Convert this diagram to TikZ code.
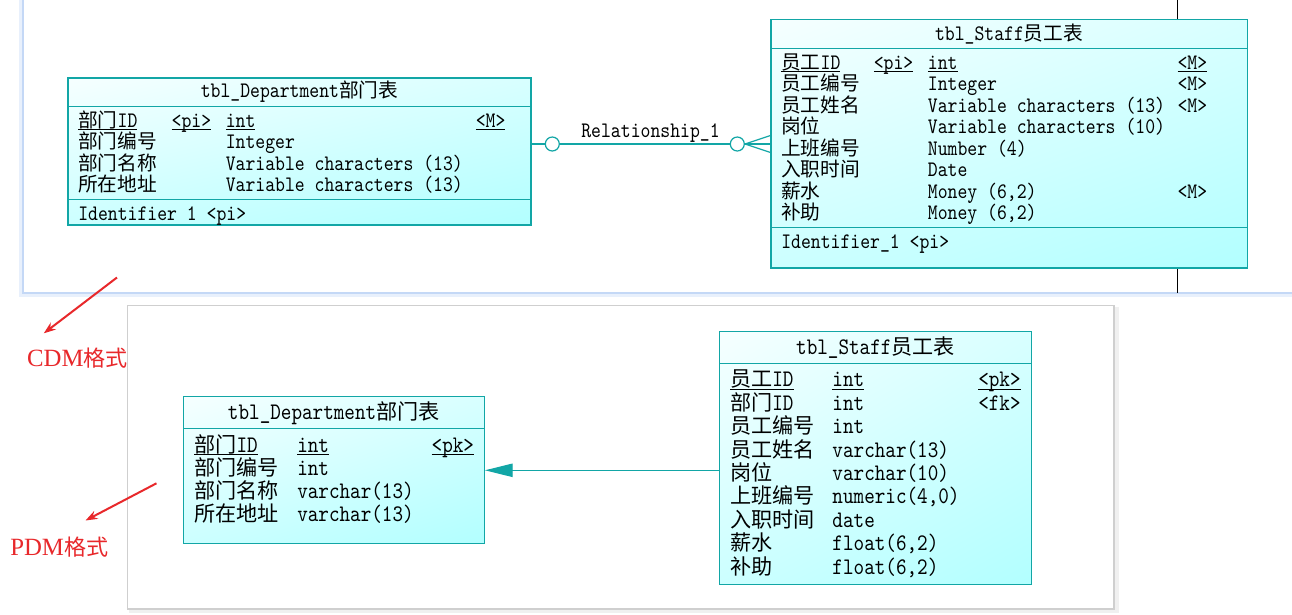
\documentclass[tikz,border=0pt]{standalone}
\usepackage{fontspec}
\newfontfamily\cjk{Noto Sans CJK SC}[Scale=0.89]
\newfontfamily\tbl{lmmono10-regular.otf}[FakeStretch=0.85]
\newfontfamily\rserif{Liberation Serif}
\usetikzlibrary{fit,shadings,arrows.meta}
\definecolor{tealA}{HTML}{12A6A6}
\definecolor{cyUL}{HTML}{F6FFFF}
\definecolor{cyUR}{HTML}{D8FFFF}
\definecolor{cyLL}{HTML}{CCFFFF}
\definecolor{cyLR}{HTML}{B2FFFF}
\definecolor{panelBlue}{HTML}{C4D8F6}
\definecolor{panelBlueL}{HTML}{E8F0FC}
\definecolor{redA}{HTML}{E8282B}
\newcommand\zh[1]{{\cjk #1}}
\newcommand\ulin[1]{\setbox0\hbox{#1}\rlap{\rule[-2.1pt]{\wd0}{0.7pt}}\box0}
\tikzset{
  tablebox/.style={inner sep=0pt, draw=tealA, line width=0.9pt,
    upper left=cyUL, upper right=cyUR, lower left=cyLL, lower right=cyLR},
  rule/.style={draw=tealA, line width=0.9pt},
  conn/.style={draw=tealA, line width=0.9pt},
  circ/.style={circle, draw=tealA, fill=white, line width=0.9pt, minimum size=10.5pt, inner sep=0pt},
  txt/.style={anchor=base west, inner sep=0pt},
  hdr/.style={anchor=base, inner sep=0pt},
  topf/.style={font=\fontsize{16.6pt}{18pt}\selectfont\tbl},
  botf/.style={font=\fontsize{17.8pt}{19pt}\selectfont\tbl},
  redarrow/.style={draw=redA, line width=1.5pt, -{Stealth[length=9pt,width=6.5pt]}},
  redlabel/.style={anchor=west, inner sep=0pt, text=redA, font=\fontsize{18.6pt}{20pt}\selectfont\rserif}
}
\begin{document}
\begin{tikzpicture}[x=0.75pt,y=-0.75pt]
\useasboundingbox (0,0) rectangle (1292,614);
\fill[white] (0,0) rectangle (1292,614);

% ---- top panel (CDM) edges
\draw[panelBlueL, line width=3pt] (20.5,0) -- (20.5,295) -- (1292,295);
\draw[panelBlue, line width=1.5pt] (22.5,0) -- (22.5,293.3) -- (1292,293.3);

% ---- bottom panel (PDM)
\draw[gray!12, line width=4pt] (129,610.5) -- (1116,610.5) -- (1116,307);
\draw[fill=white, draw=gray!38, line width=0.8pt] (127.5,305.5) rectangle (1114,609);

% ---- black vertical line behind top staff table
\draw[black, line width=0.9pt] (1177.3,0) -- (1177.3,293);

% ================= CDM tables =================
\node[tablebox, fit={(68,78) (531,225)}] (dT) {};
\draw[rule] (68,106.5) -- (531,106.5);
\draw[rule] (68,199.3) -- (531,199.3);

\node[tablebox, fit={(771,19.3) (1247.2,268)}] (sT) {};
\draw[rule] (771,48.3) -- (1247.2,48.3);
\draw[rule] (771,227.7) -- (1247.2,227.7);

% relationship
\node[circ] (c1) at (552.3,144) {};
\node[circ] (c2) at (737.3,144) {};
\draw[conn] (dT.east |- c1) -- (c1);
\draw[conn] (c1) -- (c2);
\coordinate (cfA) at (771,135.3);
\coordinate (cfC) at (771,152.7);
\draw[conn] (c2.east) -- (cfA);
\draw[conn] (c2.east) -- (sT.west |- c2);
\draw[conn] (c2.east) -- (cfC);
\node[topf, anchor=base, inner sep=0pt] (rel) at (650.5,137) {Relationship\_1};

% top dept text
\node[topf, hdr] (dTh) at (299.5,97.5) {tbl\_Department\zh{部门表}};
\node[topf, txt] (dT0a) at (78,127.5) {\ulin{\zh{部门}ID}};
\node[topf, txt] (dT0b) at (171.4,127.5) {\ulin{<pi>}};
\node[topf, txt] (dT0c) at (225.5,127.5) {\ulin{int}};
\node[topf, txt] (dT0d) at (475.5,127.5) {\ulin{<M>}};
\node[topf, txt] (dT1a) at (78,148.8) {\zh{部门编号}};
\node[topf, txt] (dT1c) at (225.5,148.8) {Integer};
\node[topf, txt] (dT2a) at (78,170.1) {\zh{部门名称}};
\node[topf, txt] (dT2c) at (225.5,170.1) {Variable characters (13)};
\node[topf, txt] (dT3a) at (78,191.4) {\zh{所在地址}};
\node[topf, txt] (dT3c) at (225.5,191.4) {Variable characters (13)};
\node[topf, txt] (dTid) at (78,220) {Identifier 1 <pi>};

% top staff text
\node[topf, hdr] (sTh) at (1009,40) {tbl\_Staff\zh{员工表}};
\node[topf, txt] (sT0a) at (781,69.5) {\ulin{\zh{员工}ID}};
\node[topf, txt] (sT0b) at (873.5,69.5) {\ulin{<pi>}};
\node[topf, txt] (sT0c) at (927.7,69.5) {\ulin{int}};
\node[topf, txt] (sT0d) at (1177.3,69.5) {\ulin{<M>}};
\node[topf, txt] (sT1a) at (781,90.9) {\zh{员工编号}};
\node[topf, txt] (sT1c) at (927.7,90.9) {Integer};
\node[topf, txt] (sT1d) at (1177.3,90.9) {<M>};
\node[topf, txt] (sT2a) at (781,112.4) {\zh{员工姓名}};
\node[topf, txt] (sT2c) at (927.7,112.4) {Variable characters (13)};
\node[topf, txt] (sT2d) at (1177.3,112.4) {<M>};
\node[topf, txt] (sT3a) at (781,133.8) {\zh{岗位}};
\node[topf, txt] (sT3c) at (927.7,133.8) {Variable characters (10)};
\node[topf, txt] (sT4a) at (781,155.2) {\zh{上班编号}};
\node[topf, txt] (sT4c) at (927.7,155.2) {Number (4)};
\node[topf, txt] (sT5a) at (781,176.7) {\zh{入职时间}};
\node[topf, txt] (sT5c) at (927.7,176.7) {Date};
\node[topf, txt] (sT6a) at (781,198.1) {\zh{薪水}};
\node[topf, txt] (sT6c) at (927.7,198.1) {Money (6,2)};
\node[topf, txt] (sT6d) at (1177.3,198.1) {<M>};
\node[topf, txt] (sT7a) at (781,219.5) {\zh{补助}};
\node[topf, txt] (sT7c) at (927.7,219.5) {Money (6,2)};
\node[topf, txt] (sTid) at (781,248.5) {Identifier\_1 <pi>};

% ================= PDM tables =================
\node[tablebox, fit={(183.2,396.7) (484.3,543.3)}] (dB) {};
\draw[rule] (183.2,428.3) -- (484.3,428.3);

\node[tablebox, fit={(719.6,331.7) (1031.4,584.3)}] (sB) {};
\draw[rule] (719.6,363.3) -- (1031.4,363.3);

\coordinate (fkY) at (600,470.3);
\draw[conn, -{Triangle[length=20.8pt,width=10pt]}] (sB.west |- fkY) -- (dB.east |- fkY);

% bottom dept text
\node[botf, hdr] (dBh) at (333.8,419.2) {tbl\_Department\zh{部门表}};
\node[botf, txt] (dB0a) at (194,452.5) {\ulin{\zh{部门}ID}};
\node[botf, txt] (dB0c) at (297,452.5) {\ulin{int}};
\node[botf, txt] (dB0d) at (431.4,452.5) {\ulin{<pk>}};
\node[botf, txt] (dB1a) at (194,475.5) {\zh{部门编号}};
\node[botf, txt] (dB1c) at (297,475.5) {int};
\node[botf, txt] (dB2a) at (194,498.8) {\zh{部门名称}};
\node[botf, txt] (dB2c) at (297,498.8) {varchar(13)};
\node[botf, txt] (dB3a) at (194,521.5) {\zh{所在地址}};
\node[botf, txt] (dB3c) at (297,521.5) {varchar(13)};

% bottom staff text
\node[botf, hdr] (sBh) at (875.5,354.2) {tbl\_Staff\zh{员工表}};
\node[botf, txt] (sB0a) at (729.8,386.8) {\ulin{\zh{员工}ID}};
\node[botf, txt] (sB0c) at (832.2,386.8) {\ulin{int}};
\node[botf, txt] (sB0d) at (978,386.8) {\ulin{<pk>}};
\node[botf, txt] (sB1a) at (729.8,410.2) {\zh{部门}ID};
\node[botf, txt] (sB1c) at (832.2,410.2) {int};
\node[botf, txt] (sB1d) at (978,410.2) {<fk>};
\node[botf, txt] (sB2a) at (729.8,433.6) {\zh{员工编号}};
\node[botf, txt] (sB2c) at (832.2,433.6) {int};
\node[botf, txt] (sB3a) at (729.8,457.0) {\zh{员工姓名}};
\node[botf, txt] (sB3c) at (832.2,457.0) {varchar(13)};
\node[botf, txt] (sB4a) at (729.8,480.4) {\zh{岗位}};
\node[botf, txt] (sB4c) at (832.2,480.4) {varchar(10)};
\node[botf, txt] (sB5a) at (729.8,503.8) {\zh{上班编号}};
\node[botf, txt] (sB5c) at (832.2,503.8) {numeric(4,0)};
\node[botf, txt] (sB6a) at (729.8,527.2) {\zh{入职时间}};
\node[botf, txt] (sB6c) at (832.2,527.2) {date};
\node[botf, txt] (sB7a) at (729.8,550.6) {\zh{薪水}};
\node[botf, txt] (sB7c) at (832.2,550.6) {float(6,2)};
\node[botf, txt] (sB8a) at (729.8,574.0) {\zh{补助}};
\node[botf, txt] (sB8c) at (832.2,574.0) {float(6,2)};

% ================= annotations =================
\node[redlabel] (cdm) at (26.8,358.3) {CDM\zh{格式}};
\node[redlabel] (pdm) at (10,546.7) {PDM\zh{格式}};
\coordinate (a1s) at (117,277.5);
\coordinate (a1e) at (43.8,333.3);
\coordinate (a2s) at (156.5,483.3);
\coordinate (a2e) at (85.5,520.5);
\draw[redarrow] (a1s) -- (a1e);
\draw[redarrow] (a2s) -- (a2e);
\end{tikzpicture}
\end{document}
